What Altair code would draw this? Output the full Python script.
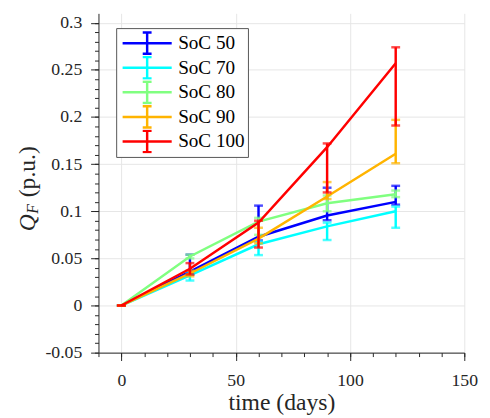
import altair as alt
import pandas as pd

days = [0, 30, 60, 90, 120]
series = ["SoC 50", "SoC 70", "SoC 80", "SoC 90", "SoC 100"]
colors = ["#0000ff", "#00ffff", "#80ff80", "#ffb400", "#ff0000"]

mean_50 = [0, 0.036, 0.073, 0.0955, 0.110]
low_50 = [0, 0.033, 0.069, 0.0905, 0.107]
high_50 = [0, 0.054, 0.106, 0.125, 0.127]

mean_70 = [0, 0.032, 0.065, 0.084, 0.100]
low_70 = [0, 0.0265, 0.0535, 0.0695, 0.0825]
high_70 = [0, 0.034, 0.068, 0.088, 0.105]

mean_80 = [0, 0.052, 0.089, 0.1085, 0.118]
low_80 = [0, 0.050, 0.075, 0.100, 0.115]
high_80 = [0, 0.054, 0.093, 0.1167, 0.122]

mean_90 = [0, 0.034, 0.071, 0.1156, 0.161]
low_90 = [0, 0.031, 0.066, 0.113, 0.151]
high_90 = [0, 0.037, 0.0825, 0.131, 0.197]

mean_100 = [0, 0.039, 0.088, 0.168, 0.257]
low_100 = [0, 0.033, 0.0615, 0.120, 0.191]
high_100 = [0, 0.045, 0.090, 0.172, 0.274]

x_major = [0, 50, 100, 150]
x_minor = list(range(-10, 151, 10))
y_major = [-0.05, 0, 0.05, 0.1, 0.15, 0.2, 0.25, 0.3]
y_minor = [round(-0.05 + 0.01 * i, 2) for i in range(36)]

means = [mean_50, mean_70, mean_80, mean_90, mean_100]
lows = [low_50, low_70, low_80, low_90, low_100]
highs = [high_50, high_70, high_80, high_90, high_100]

rows = []
for name, m, lo, hi in zip(series, means, lows, highs):
    for d, a, b, c in zip(days, m, lo, hi):
        rows.append(dict(series=name, day=d, q=a, lo=b, hi=c))
df = pd.DataFrame(rows)

FONT = "Liberation Serif"
AX = "#262626"

xscale = alt.Scale(domain=[-10, 150], nice=False, zero=False)
yscale = alt.Scale(domain=[-0.05, 0.31], nice=False, zero=False)
cscale = alt.Scale(domain=series, range=colors)

sym = "M-2.08,0H2.08M0,-0.9V0.9M-0.375,-0.9H0.375M-0.375,0.9H0.375"
legend = alt.Legend(
    title=None, orient="none", legendX=18, legendY=15,
    symbolType=sym, symbolSize=576, symbolStrokeWidth=2.5,
    symbolOffset=15, labelOffset=18, rowPadding=0, padding=3, clipHeight=24.6,
    labelFont=FONT, labelFontSize=19.5, labelColor="black",
    strokeColor="#555555", fillColor="white", cornerRadius=0,
)

major_x = alt.Axis(orient="bottom", values=x_major, grid=True, gridColor="#e6e6e6",
                   tickSize=8, tickColor=AX, domainColor=AX, labelFont=FONT,
                   labelFontSize=18, labelColor=AX, labelPadding=11, format="d",
                   labelFlush=False, title="time (days)", titleFont=FONT,
                   titleFontSize=24, titleFontWeight="normal", titleColor=AX,
                   titlePadding=2)
major_y = alt.Axis(orient="left", values=y_major, grid=True, gridColor="#e6e6e6",
                   tickSize=8, tickColor=AX, domainColor=AX, labelFont=FONT,
                   labelFontSize=18, labelColor=AX, labelPadding=9,
                   labelExpr="datum.value < 0 ? '-' + format(-datum.value, '~g') : format(datum.value, '~g')",
                   labelFlush=False, title=None)
minor_x = alt.Axis(orient="bottom", values=x_minor, grid=False, tickSize=4,
                   tickColor=AX, domain=False, labels=False, title=None)
minor_y = alt.Axis(orient="left", values=y_minor, grid=False, tickSize=4,
                   tickColor=AX, domain=False, labels=False, title=None)

base = alt.Chart(df)
layers = [
    base.mark_point(opacity=0).encode(
        x=alt.X("day:Q", scale=xscale, axis=major_x),
        y=alt.Y("q:Q", scale=yscale, axis=major_y)),
    base.mark_point(opacity=0).encode(
        x=alt.X("day:Q", scale=xscale, axis=minor_x),
        y=alt.Y("q:Q", scale=yscale, axis=minor_y)),
]

for i, name in enumerate(series):
    sub = base.transform_filter(alt.datum.series == name)
    X = alt.X("day:Q", scale=xscale, axis=None)
    layers.append(sub.mark_line(strokeWidth=2.5).encode(
        x=X, y=alt.Y("q:Q", scale=yscale, axis=None),
        color=alt.Color("series:N", scale=cscale, legend=legend if i == 0 else None)))
    layers.append(sub.mark_rule(strokeWidth=2.5).encode(
        x=X, y=alt.Y("lo:Q", scale=yscale, axis=None), y2="hi:Q",
        color=alt.Color("series:N", scale=cscale, legend=None)))
    for f in ["lo", "hi"]:
        layers.append(sub.mark_tick(orient="horizontal", size=9, thickness=2.5).encode(
            x=X, y=alt.Y(f + ":Q", scale=yscale, axis=None),
            color=alt.Color("series:N", scale=cscale, legend=None)))

layers.append(alt.Chart(pd.DataFrame({"t": ["Q"]})).mark_text(
    angle=270, align="center", baseline="alphabetic", font=FONT, fontSize=24,
    fontStyle="italic", color=AX).encode(x=alt.value(-65), y=alt.value(213), text="t:N"))
layers.append(alt.Chart(pd.DataFrame({"t": ["F"]})).mark_text(
    angle=270, align="center", baseline="alphabetic", font=FONT, fontSize=16,
    fontStyle="italic", color=AX).encode(x=alt.value(-61), y=alt.value(199), text="t:N"))
layers.append(alt.Chart(pd.DataFrame({"t": ["(p.u.)"]})).mark_text(
    angle=270, align="center", baseline="alphabetic", font=FONT, fontSize=24,
    color=AX).encode(x=alt.value(-65), y=alt.value(161), text="t:N"))

chart = alt.layer(*layers).resolve_axis(x="independent", y="independent").properties(
    width=372, height=345, autosize="none",
    padding={"left": 92, "top": 2, "right": 18, "bottom": 62},
    background="white",
).configure(font=FONT).configure_axis(labelFont=FONT, titleFont=FONT).configure_legend(
    labelFont=FONT).configure_view(stroke=None)

chart.save("out.html", embed_options={"renderer": "svg", "actions": False})
